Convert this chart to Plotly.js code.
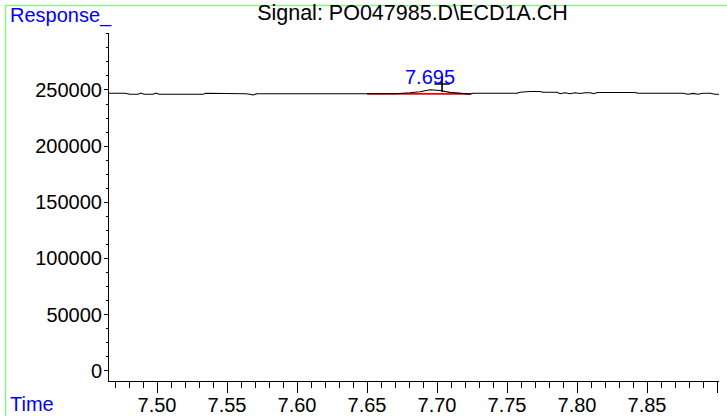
<!DOCTYPE html>
<html>
<head>
<meta charset="utf-8">
<script src="https://cdn.plot.ly/plotly-3.0.1.min.js"></script>
<style>
html,body{margin:0;padding:0;background:#fff;}
#chart{width:727px;height:416px;}
</style>
</head>
<body>
<div id="chart"></div>
<script>
// Chromatogram signal (time in min, response)
const time = [7.4657, 7.4771, 7.4807, 7.4864, 7.4886, 7.4907, 7.4971, 7.4993, 7.5014, 7.5329,
  7.5350, 7.5521, 7.5543, 7.5564, 7.5629, 7.5664, 7.5686, 7.5714, 7.6200, 7.6214,
  7.6236, 7.6700, 7.6807, 7.6879, 7.6950, 7.7021, 7.7093, 7.7164, 7.7236, 7.7257,
  7.7571, 7.7593, 7.7664, 7.7736, 7.7757, 7.7857, 7.7879, 7.7914, 7.7950, 7.7986,
  7.8021, 7.8057, 7.8093, 7.8121, 7.8143, 7.8414, 7.8436, 7.8757, 7.8793, 7.8829,
  7.8864, 7.8900, 7.8950, 7.8986, 7.9021, 7.9071];
const response = [247050, 247050, 246160, 246160, 247300, 246160, 246160, 247300, 246160, 246160,
  247050, 247050, 247300, 246700, 246700, 246160, 245530, 246690, 246690, 246160,
  246690, 246690, 247500, 248400, 250260, 249500, 247900, 246900, 246300, 247050,
  247050, 247940, 248650, 248650, 247940, 247940, 246690, 247500, 246690, 247500,
  246900, 247500, 247500, 246690, 247700, 247700, 247050, 247050, 246160, 247000,
  246160, 247050, 247050, 246160, 246160, 247050];

// Integration baseline of the peak
const baseTime = [7.650, 7.724];
const baseResp = [246500, 246500];

// Peak label and apex marker
const peakTime = [7.695];
const peakResp = [250260];
const peakLabel = ["7.695"];
const apexTime = [7.7036];
const apexResp = [255300];

// Axis ticks
const xTickVals = [7.50, 7.55, 7.60, 7.65, 7.70, 7.75, 7.80, 7.85, 7.90];
const xTickText = ["7.50", "7.55", "7.60", "7.65", "7.70", "7.75", "7.80", "7.85", ""];
const yTickVals = [0, 50000, 100000, 150000, 200000, 250000];
const yTickText = ["0", "50000", "100000", "150000", "200000", "250000"];

const FONT = "Liberation Sans, Arial, sans-serif";
const FS = 20;

const traces = [
  {x: baseTime, y: baseResp, mode: "lines", line: {color: "#ff0000", width: 1.6}, hoverinfo: "skip"},
  {x: time, y: response, mode: "lines", line: {color: "#000000", width: 1.1}},
  {x: apexTime, y: apexResp, mode: "markers",
   marker: {symbol: "cross-thin", size: 11, line: {color: "#000000", width: 1.6}}, cliponaxis: false}
];

const layout = {
  width: 727, height: 416,
  margin: {l: 109, r: 8, t: 33, b: 35, pad: 0},
  showlegend: false,
  paper_bgcolor: "#ffffff", plot_bgcolor: "#ffffff",
  font: {family: FONT, size: FS, color: "#000000"},
  title: {text: "Signal: PO047985.D\\ECD1A.CH", xref: "container", yref: "container",
          x: 0.5674, xanchor: "center", y: 0.969, yanchor: "middle",
          font: {family: FONT, size: 21.5, color: "#000000"}},
  xaxis: {
    range: [7.4657, 7.9014], showgrid: false, zeroline: false,
    showline: true, linecolor: "#000000", linewidth: 1,
    ticks: "outside", ticklen: 11, tickwidth: 1, tickcolor: "#000000",
    tickmode: "array", tickvals: xTickVals, ticktext: xTickText,
    ticklabelstandoff: -5,
    minor: {dtick: 0.01, tick0: 7.5, ticks: "outside", ticklen: 6, tickwidth: 1, tickcolor: "#000000", showgrid: false},
    tickfont: {family: FONT, size: FS, color: "#000000"}
  },
  yaxis: {
    range: [-9173, 300755], showgrid: false, zeroline: false,
    showline: true, linecolor: "#000000", linewidth: 1,
    ticks: "outside", ticklen: 4, tickwidth: 1, tickcolor: "#000000",
    tickmode: "array", tickvals: yTickVals, ticktext: yTickText,
    ticklabelstandoff: -2,
    minor: {dtick: 12500, tick0: 0, ticks: "outside", ticklen: 2, tickwidth: 1, tickcolor: "#000000", showgrid: false},
    tickfont: {family: FONT, size: FS, color: "#000000"}
  },
  annotations: [
    {x: peakTime[0], y: peakResp[0], xref: "x", yref: "y", text: peakLabel[0], showarrow: false,
     yshift: 13, xanchor: "center", yanchor: "middle", font: {family: FONT, size: FS, color: "#0000ff"}},
    {x: -0.1656, y: 1.088, xref: "paper", yref: "paper", text: "Response_", showarrow: false,
     xanchor: "left", yanchor: "top", font: {family: FONT, size: FS, color: "#0000ff"}},
    {x: -0.1656, y: -0.0675, xref: "paper", yref: "paper", text: "Time", showarrow: false,
     xanchor: "left", yanchor: "middle", font: {family: FONT, size: FS, color: "#0000ff"}}
  ],
  shapes: [
    {type: "line", xref: "paper", yref: "paper", x0: -0.1697, x1: -0.1697, y0: 1.079, y1: -0.12,
     line: {color: "#8cf08c", width: 1.5}},
    {type: "line", xref: "paper", yref: "paper", x0: -0.1697, x1: 1.02, y0: 1.079, y1: 1.079,
     line: {color: "#8cf08c", width: 1.5}}
  ]
};

Plotly.newPlot("chart", traces, layout, {displayModeBar: false, staticPlot: true});
</script>
</body>
</html>
